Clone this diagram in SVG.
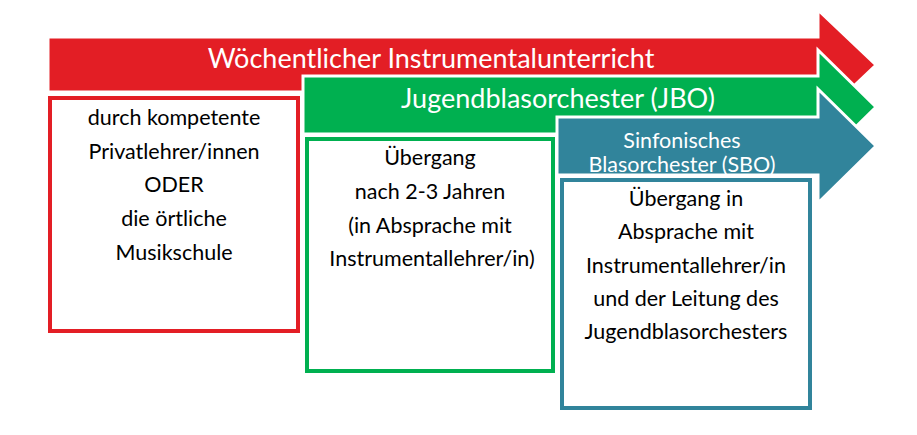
<svg xmlns="http://www.w3.org/2000/svg" width="917" height="435" viewBox="0 0 917 435">
<style>
.arrow{stroke:#fff;stroke-width:3;stroke-linejoin:miter}
.box{fill:#fff;stroke-width:4}
.title{font-family:Lato,"Liberation Sans",sans-serif;fill:#fff;text-anchor:middle;font-weight:400}
.body{font-family:Lato,"Liberation Sans",sans-serif;fill:#000;font-size:21.5px;text-anchor:middle;font-weight:400}
</style>
<rect width="917" height="435" fill="#fff"/>
<g id="red">
<polygon class="arrow" fill="#E31E25" points="48,37 818,37 818,10 876,65 818,120 818,92 48,92"/>
<text class="title" x="431" y="68" font-size="27">Wöchentlicher Instrumentalunterricht</text>
</g>
<g id="red-box">
<rect class="box" stroke="#E31E25" x="50" y="98" width="248" height="233"/>
<text class="body" x="174" y="125">durch kompetente</text>
<text class="body" x="174" y="159">Privatlehrer/innen</text>
<text class="body" x="174" y="192">ODER</text>
<text class="body" x="174" y="226">die örtliche</text>
<text class="body" x="174" y="260">Musikschule</text>
</g>
<g id="green">
<polygon class="arrow" fill="#00B050" points="303,76 818,76 818,50 876,107 818,164 818,134 303,134"/>
<text class="title" x="558" y="108" font-size="27">Jugendblasorchester (JBO)</text>
</g>
<g id="green-box">
<rect class="box" stroke="#00B050" x="307" y="139" width="246" height="232"/>
<text class="body" x="430" y="165">Übergang</text>
<text class="body" x="430" y="199">nach 2-3 Jahren</text>
<text class="body" x="430" y="233">(in Absprache mit</text>
<text class="body" x="432" y="266">Instrumentallehrer/in)</text>
</g>
<g id="teal">
<polygon class="arrow" fill="#31849B" points="557,117 818,117 818,89 876,146 818,203 818,175 557,175"/>
<text class="title" x="682" y="148" font-size="21.5">Sinfonisches</text>
<text class="title" x="682" y="172" font-size="21.5">Blasorchester (SBO)</text>
</g>
<g id="teal-box">
<rect class="box" stroke="#31849B" x="562" y="180" width="248" height="228"/>
<text class="body" x="686" y="206">Übergang in</text>
<text class="body" x="686" y="239">Absprache mit</text>
<text class="body" x="686" y="273">Instrumentallehrer/in</text>
<text class="body" x="686" y="306">und der Leitung des</text>
<text class="body" x="686" y="339">Jugendblasorchesters</text>
</g>
<g id="connectors"/>
</svg>
